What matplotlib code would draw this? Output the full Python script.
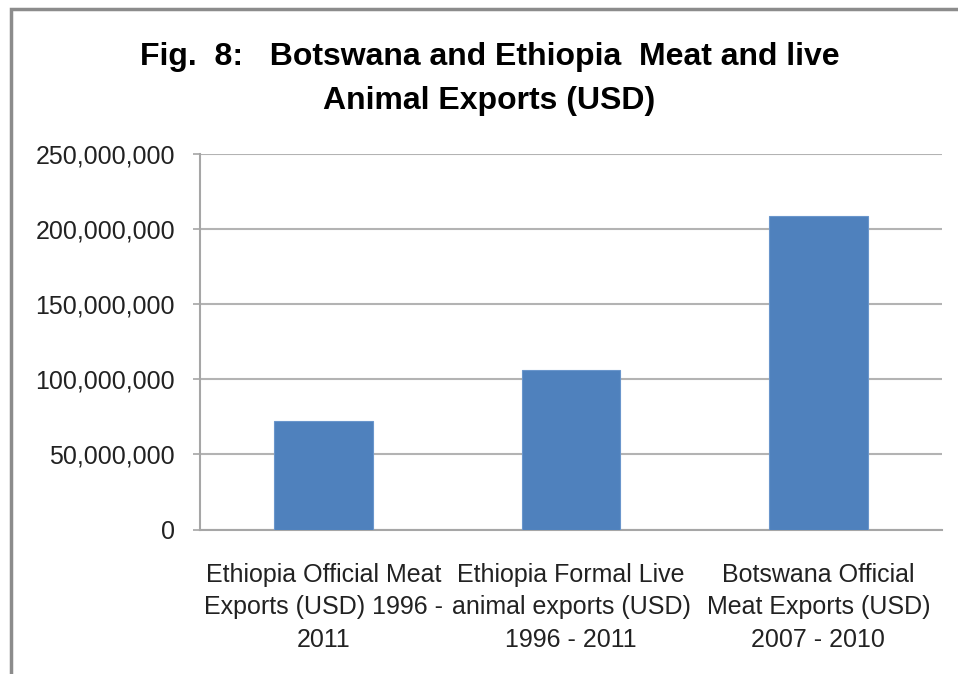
import matplotlib
matplotlib.use("Agg")
import matplotlib.pyplot as plt
from matplotlib.patches import Rectangle
from matplotlib.ticker import FuncFormatter

# === DATA ===
categories = [
    "Ethiopia Official Meat\nExports (USD) 1996 -\n2011",
    "Ethiopia Formal Live\nanimal exports (USD)\n1996 - 2011",
    "Botswana Official\nMeat Exports (USD)\n2007 - 2010",
]
values = [72_400_000, 106_500_000, 208_500_000]
y_ticks = [0, 50_000_000, 100_000_000, 150_000_000, 200_000_000, 250_000_000]
title = "Fig.  8:   Botswana and Ethiopia  Meat and live\nAnimal Exports (USD)"

plt.rcParams['font.family'] = ['Liberation Sans', 'DejaVu Sans']

# === PLOT ===
fig = plt.figure(figsize=(9.58, 6.74), dpi=100)
fig.patch.set_facecolor("white")

# outer chart border (only left and top visible in the crop)
fig.add_artist(Rectangle((11 / 958, -0.1), 1.2, 1 - 9 / 674 + 0.1,
                         transform=fig.transFigure, fill=False,
                         edgecolor="#8c8c8c", linewidth=2.5))

ax = fig.add_axes([200 / 958, 1 - 529.5 / 674, 742 / 958, (529.5 - 154) / 674])
x = range(len(values))
ax.bar(x, values, width=0.4, color="#4F81BD", edgecolor="#6a96cc", linewidth=0.8, zorder=3)

ax.set_xlim(-0.5, 2.5)
ax.set_ylim(0, 250_000_000)
ax.set_yticks(y_ticks)
ax.yaxis.set_major_formatter(FuncFormatter(lambda v, p: f"{int(v):,}"))
ax.set_xticks(list(x))
ax.set_xticklabels(categories, fontsize=18, linespacing=1.45, color="#222222")
ax.tick_params(axis="y", labelsize=18, labelcolor="#222222", length=5, width=1.2,
               color="#a6a6a6", pad=13)
ax.tick_params(axis="x", length=0, pad=24)

ax.grid(axis="y", color="#b3b3b3", linewidth=1.5, zorder=0)
for side in ["top", "right"]:
    ax.spines[side].set_visible(False)
for side in ["left", "bottom"]:
    ax.spines[side].set_color("#a6a6a6")
    ax.spines[side].set_linewidth(1.5)

fig.text(0.511, 1 - 79 / 674, title, ha="center", va="center", fontsize=23,
         fontweight="bold", linespacing=1.6)

fig.savefig("out.png", dpi=100)
